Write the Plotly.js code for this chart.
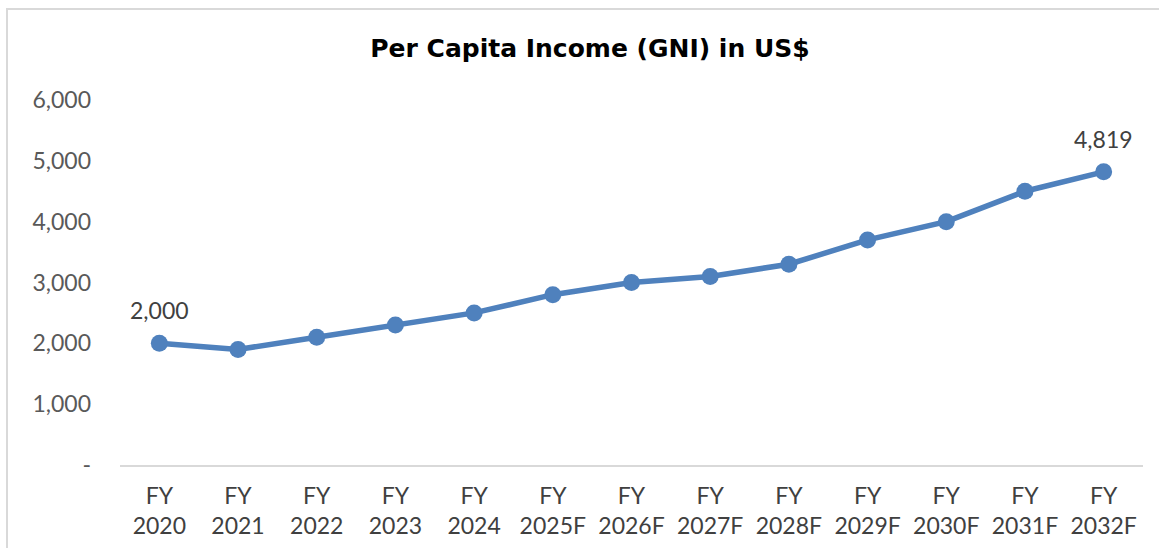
<!DOCTYPE html>
<html>
<head>
<meta charset="utf-8">
<script src="https://cdn.plot.ly/plotly-3.0.1.min.js"></script>
<style>
  html, body { margin: 0; padding: 0; background: #fff; overflow: hidden; }
  #chart { width: 1159px; height: 548px; position: absolute; left: 0; top: 0; }
  #frame { position: absolute; left: 6px; top: 8px; width: 1170px; height: 600px;
           border-left: 2px solid #d9d9d9; border-top: 2px solid #d9d9d9; pointer-events: none; }
</style>
</head>
<body>
<div id="chart"></div>
<div id="frame"></div>
<script>
const categories = ["FY<br>2020","FY<br>2021","FY<br>2022","FY<br>2023","FY<br>2024","FY<br>2025F","FY<br>2026F","FY<br>2027F","FY<br>2028F","FY<br>2029F","FY<br>2030F","FY<br>2031F","FY<br>2032F"];
const gniValues = [2000, 1900, 2100, 2300, 2500, 2800, 3000, 3100, 3300, 3700, 4000, 4500, 4819];
const labelledIndexes = [0, 12];
const yTickVals = [0, 1000, 2000, 3000, 4000, 5000, 6000];
const yTickText = ["-", "1,000", "2,000", "3,000", "4,000", "5,000", "6,000"];

const FONT = "Lato, 'Open Sans', sans-serif";
const TITLE_FONT = "'DejaVu Sans', Lato, sans-serif";

const trace = {
  type: "scatter",
  mode: "lines+markers",
  x: categories,
  y: gniValues,
  line: { color: "#4F81BD", width: 5.5 },
  marker: { color: "#4F81BD", size: 17 },
  cliponaxis: false,
  hoverinfo: "x+y"
};

const annotations = labelledIndexes.map(i => ({
  x: categories[i],
  y: gniValues[i],
  xref: "x", yref: "y",
  text: gniValues[i].toLocaleString("en-US"),
  showarrow: false,
  yshift: 33,
  font: { family: FONT, size: 23, color: "#404040" }
}));

const layout = {
  width: 1159, height: 548,
  margin: { l: 120, r: 16, t: 100, b: 83 },
  paper_bgcolor: "#fff", plot_bgcolor: "#fff",
  showlegend: false,
  title: {
    text: "<b>Per Capita Income (GNI) in US$</b>",
    font: { family: TITLE_FONT, size: 25, color: "#000" },
    x: 0.509, xanchor: "center",
    y: 0.912, yanchor: "middle"
  },
  xaxis: {
    type: "category",
    range: [-0.5, categories.length - 0.5],
    showgrid: false, zeroline: false,
    showline: true, linecolor: "#d9d9d9", linewidth: 2,
    ticks: "",
    tickfont: { family: FONT, size: 23, color: "#404040" },
    ticklabelstandoff: 9,
    fixedrange: true
  },
  yaxis: {
    range: [0, 6000],
    tickvals: yTickVals, ticktext: yTickText,
    showgrid: false, zeroline: false, showline: false,
    ticks: "",
    tickfont: { family: FONT, size: 23, color: "#595959" },
    ticklabelstandoff: 28,
    fixedrange: true
  },
  annotations: annotations
};

Plotly.newPlot("chart", [trace], layout, { displayModeBar: false, staticPlot: true });
</script>
</body>
</html>
